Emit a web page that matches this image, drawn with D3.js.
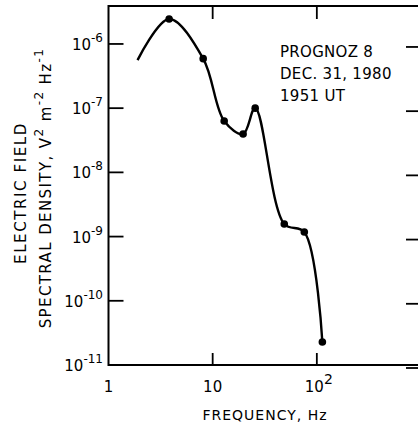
<!DOCTYPE html>
<html>
<head>
<meta charset="utf-8">
<script src="https://d3js.org/d3.v7.min.js"></script>
<style>
  body { margin: 0; background: #fff; }
  svg text { font-family: "DejaVu Sans", sans-serif; fill: #000; }
</style>
</head>
<body>
<svg id="spectrum" width="418" height="427"></svg>
<script>
//Measured spectrum (frequency in Hz, density in V^2 m^-2 Hz^-1)
var frequencies = [3.82, 8.11, 12.9, 19.6, 25.6, 48.7, 75.8, 113];
var densities = [2.45e-6, 5.9e-7, 6.3e-8, 3.96e-8, 1.0e-7, 1.57e-9, 1.18e-9, 2.28e-11];

//Where the drawn curve starts (no data dot there)
var curveStart = { f: 1.9, v: 5.6e-7 };

//Tick values
var yTicks = [-6, -7, -8, -9, -10, -11];
var xTicks = [1, 10, 100, 1000];
var xTickLabels = [{ base: "1", sup: "" }, { base: "10", sup: "" }, { base: "10", sup: "2" }];

var infoLines = ["PROGNOZ 8", "DEC. 31, 1980", "1951 UT"];

var svg = d3.select("svg#spectrum");

//Scales (the right frame edge sits just outside the window)
var x = d3.scaleLog()
  .domain([1, 1000])
  .range([108.5, 421]);

var y = d3.scaleLog()
  .domain([1e-11, 3.9e-6])
  .range([365, 6]);

var frame = svg.append("g")
  .attr("stroke", "#000")
  .attr("fill", "none");

//Plot frame (right side is cut off by the window)
frame.append("path")
  .attr("d", "M" + 425 + "," + y.range()[1] +
             "H" + x.range()[0] +
             "V" + y.range()[0] +
             "H" + 425)
  .attr("stroke-width", 2);

//Left and right decade ticks (pointing inwards)
yTicks.forEach(function (p) {
  var yy = y(Math.pow(10, p));
  frame.append("line")
    .attr("x1", x.range()[0]).attr("x2", x.range()[0] + 15)
    .attr("y1", yy).attr("y2", yy)
    .attr("stroke-width", 1.8);
  frame.append("line")
    .attr("x1", x.range()[1] - 15).attr("x2", 425)
    .attr("y1", yy + 3).attr("y2", yy + 3)
    .attr("stroke-width", 1.8);
});

//Top and bottom ticks
xTicks.slice(1).forEach(function (f) {
  var xx = x(f);
  frame.append("line")
    .attr("x1", xx).attr("x2", xx)
    .attr("y1", y.range()[0]).attr("y2", y.range()[0] - 12)
    .attr("stroke-width", 1.8);
  frame.append("line")
    .attr("x1", xx).attr("x2", xx)
    .attr("y1", y.range()[1]).attr("y2", y.range()[1] + 13)
    .attr("stroke-width", 1.8);
});

//Y tick labels: 10 with superscript exponent
var yLabels = svg.append("g")
  .selectAll("text")
  .data(yTicks)
  .enter().append("text")
    .attr("x", 103)
    .attr("y", function (d) { return y(Math.pow(10, d)) + 6; })
    .attr("text-anchor", "end")
    .style("font-size", "15px");

yLabels.append("tspan").text("10");
yLabels.append("tspan")
    .attr("dy", -8)
    .style("font-size", "12px")
    .text(function (d) { return "-" + Math.abs(d); });

//X tick labels
var xLabels = svg.append("g")
  .selectAll("text")
  .data(xTickLabels)
  .enter().append("text")
    .attr("x", function (d, i) { return x(xTicks[i]) + (d.sup ? 2 : 0); })
    .attr("y", 392)
    .attr("text-anchor", "middle")
    .style("font-size", "15px");

xLabels.append("tspan").text(function (d) { return d.base; });
xLabels.append("tspan")
    .attr("dy", -8)
    .style("font-size", "14px")
    .text(function (d) { return d.sup; });

//Axis titles
svg.append("text")
    .attr("x", 265)
    .attr("y", 420)
    .attr("text-anchor", "middle")
    .style("font-size", "14px")
    .style("letter-spacing", "1px")
    .text("FREQUENCY,  Hz");

svg.append("text")
    .attr("transform", "translate(26,193) rotate(-90)")
    .attr("text-anchor", "middle")
    .style("font-size", "15px")
    .style("letter-spacing", "1.6px")
    .text("ELECTRIC FIELD");

var yTitle = svg.append("text")
    .attr("transform", "translate(51,188) rotate(-90)")
    .attr("text-anchor", "middle")
    .style("font-size", "15px")
    .style("letter-spacing", "1.4px");

yTitle.append("tspan").text("SPECTRAL DENSITY,  V");
yTitle.append("tspan").attr("dy", -8).style("font-size", "12px").text("2");
yTitle.append("tspan").attr("dy", 8).text(" m");
yTitle.append("tspan").attr("dy", -8).style("font-size", "12px").text("-2");
yTitle.append("tspan").attr("dy", 8).text(" Hz");
yTitle.append("tspan").attr("dy", -8).style("font-size", "12px").text("-1");

//Annotation block
svg.append("g")
  .selectAll("text")
  .data(infoLines)
  .enter().append("text")
    .attr("x", 280)
    .attr("y", function (d, i) { return 57 + i * 22; })
    .style("font-size", "15px")
    .style("letter-spacing", "0.3px")
    .text(function (d) { return d; });

//Smooth spectrum curve through the points
var points = [[curveStart.f, curveStart.v]].concat(frequencies.map(function (f, i) {
  return [f, densities[i]];
}));

var line = d3.line()
  .x(function (d) { return x(d[0]); })
  .y(function (d) { return y(d[1]); })
  .curve(d3.curveCatmullRom.alpha(0.5));

svg.append("path")
    .datum(points)
    .attr("d", line)
    .attr("fill", "none")
    .attr("stroke", "#000")
    .attr("stroke-width", 2.4);

//Data dots
svg.append("g")
  .selectAll("circle")
  .data(frequencies)
  .enter().append("circle")
    .attr("cx", function (d) { return x(d); })
    .attr("cy", function (d, i) { return y(densities[i]); })
    .attr("r", 3.8)
    .attr("fill", "#000");
</script>
</body>
</html>
